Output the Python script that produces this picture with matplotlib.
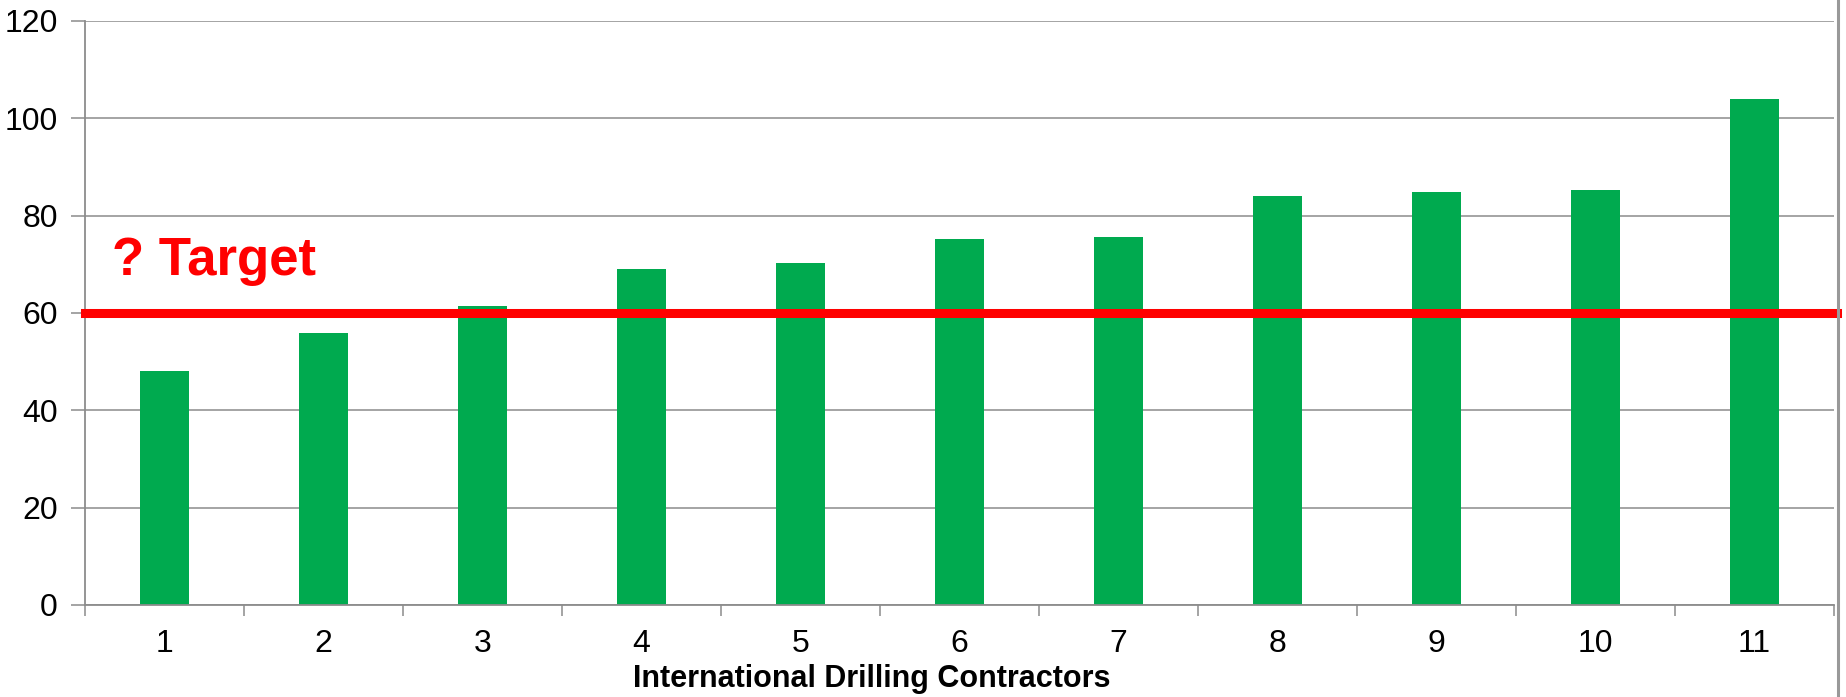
import matplotlib
matplotlib.use("Agg")
import matplotlib.pyplot as plt
from matplotlib.lines import Line2D
import numpy as np

plt.rcParams['font.family'] = ['Liberation Sans', 'DejaVu Sans']

contractors = ['1', '2', '3', '4', '5', '6', '7', '8', '9', '10', '11']
values = [48.1, 55.9, 61.5, 69.0, 70.2, 75.2, 75.7, 84.0, 84.9, 85.3, 104.0]
target = 60

fig = plt.figure(figsize=(18.46, 6.97), dpi=100)
ax = fig.add_axes([85/1846, 1 - 605/697, (1834 - 85)/1846, (605 - 21)/697])

x = np.arange(1, len(values) + 1)
ax.bar(x, values, width=0.31, color='#00AA4F', zorder=2)
ax.axhline(target, color='#FF0000', lw=6.5, zorder=3, xmin=0, xmax=1.002, clip_on=False)

ax.set_xlim(0.5, len(values) + 0.5)
ax.set_ylim(0, 120)
ax.set_yticks(range(0, 121, 20))
ax.yaxis.grid(True, color='#8c8c8c', lw=1.1, zorder=0)
ax.tick_params(axis='y', labelsize=23, length=10, width=1.1, color='#8c8c8c', pad=9.5)

ax.set_xticks(x)
ax.set_xticklabels(contractors)
ax.set_xticks(np.arange(0.5, len(values) + 1, 1), minor=True)
ax.tick_params(axis='x', which='major', length=0, labelsize=23, pad=17)
ax.tick_params(axis='x', which='minor', length=8, width=1.1, color='#8c8c8c')

for s in ['top', 'right']:
    ax.spines[s].set_visible(False)
for s in ['left', 'bottom']:
    ax.spines[s].set_color('#8c8c8c')
    ax.spines[s].set_linewidth(1.3)

ax.text(112/1846, 1 - 275/697, '? Target', transform=fig.transFigure,
        color='#FF0000', fontsize=38, fontweight='bold', va='baseline', ha='left')

fig.text(872/1846, 1 - 679/697, 'International Drilling Contractors',
         fontsize=22, fontweight='bold', ha='center', va='center')

# right border line
fig.add_artist(Line2D([1837.5/1846, 1837.5/1846], [0, 1], color='#999999', lw=2.2,
                      transform=fig.transFigure))

fig.savefig('out.png', dpi=100, facecolor='white')
